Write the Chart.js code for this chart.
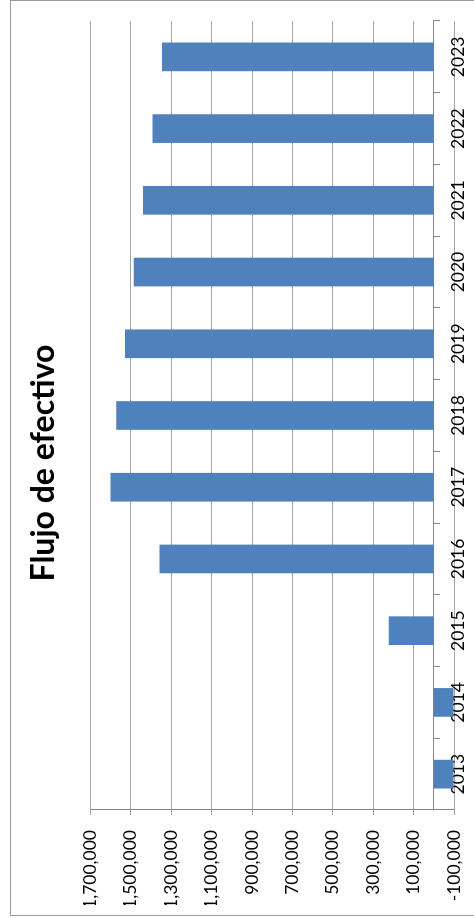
<!DOCTYPE html>
<html>
<head>
<meta charset="utf-8">
<script src="https://cdn.jsdelivr.net/npm/chart.js@4.4.0/dist/chart.umd.min.js"></script>
<style>
  html, body { margin: 0; padding: 0; background: #fff; overflow: hidden; }
  #wrap {
    position: absolute; left: 0; top: 0;
    width: 919px; height: 474px; overflow: hidden;
    transform-origin: 0 0;
    transform: translateY(919px) rotate(-90deg);
  }
  #frame {
    position: absolute; left: 3px; top: 10px; width: 914px; height: 480px;
    border: 1px solid #9a9a9a;
  }
  #graph { position: absolute; left: 0; top: 0; }
</style>
</head>
<body>
<div id="wrap">
  <div id="frame"></div>
  <canvas id="graph" width="919" height="500"></canvas>
</div>
<script>
const years = ['2013', '2014', '2015', '2016', '2017', '2018', '2019', '2020', '2021', '2022', '2023'];
const flujo = [-98000, -98000, 223000, 1358000, 1600000, 1572000, 1529000, 1485000, 1440000, 1392000, 1346000];
const valueTicks = [-100000, 100000, 300000, 500000, 700000, 900000, 1100000, 1300000, 1500000, 1700000];

const tickFont = { family: 'Lato', size: 17.5 };

// the canvas is drawn upright and the whole block is turned a quarter turn left
const ctx = document.getElementById('graph').getContext('2d');
const graph = new Chart(ctx, {
  type: 'bar',
  data: {
    labels: years,
    datasets: [
      {
        label: 'Flujo de efectivo',
        data: flujo,
        backgroundColor: '#4F81BD',
        categoryPercentage: 0.8,
        barPercentage: 0.5,
      },
    ],
  },
  options: {
    responsive: false,
    animation: false,
    layout: { padding: { top: 0, left: 14, right: 21, bottom: 46 } },
    plugins: {
      legend: { display: false },
      tooltip: { enabled: false },
      title: {
        display: true,
        text: 'Flujo de efectivo',
        color: '#000',
        font: { family: 'Lato', size: 32, weight: 'bold' },
        padding: { top: 24, bottom: 28 },
      },
    },
    scales: {
      x: {
        position: { y: 0 },
        offset: true,
        grid: { offset: true, drawOnChartArea: false, tickLength: 6, color: '#868686' },
        border: { display: true, color: '#868686' },
        ticks: { font: tickFont, color: '#000', padding: 8, maxRotation: 0 },
      },
      y: {
        min: -100000,
        max: 1700000,
        afterBuildTicks: (scale) => {
          scale.ticks = valueTicks.map((v) => ({ value: v }));
        },
        afterFit: (scale) => {
          scale.width = 95;
        },
        grid: { color: '#a6a6a6', tickLength: 5 },
        border: { color: '#868686' },
        ticks: {
          font: tickFont,
          color: '#000',
          padding: 15,
          callback: (v) => Number(v).toLocaleString('en-US'),
        },
      },
    },
  },
});
</script>
</body>
</html>
